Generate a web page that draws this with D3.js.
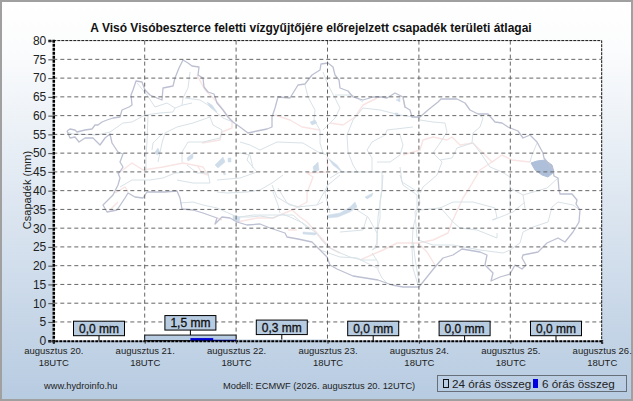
<!DOCTYPE html>
<html>
<head>
<meta charset="utf-8">
<script src="https://cdn.jsdelivr.net/npm/d3@7"></script>
<style>
  html, body { margin: 0; padding: 0; background: #fff; }
  svg { display: block; font-family: "Liberation Sans", Arial, sans-serif; }
</style>
</head>
<body>
<div class="container"></div>
<script>
const dayStarts = ['2026-08-20T18:00Z', '2026-08-21T18:00Z', '2026-08-22T18:00Z', '2026-08-23T18:00Z', '2026-08-24T18:00Z', '2026-08-25T18:00Z', '2026-08-26T18:00Z']
const dayLabels = ['augusztus 20.', 'augusztus 21.', 'augusztus 22.', 'augusztus 23.', 'augusztus 24.', 'augusztus 25.', 'augusztus 26.']
const dailyTotals = [0, 1.5, 0.3, 0, 0, 0]
const dailyLabels = ['0,0 mm', '1,5 mm', '0,3 mm', '0,0 mm', '0,0 mm', '0,0 mm']
const sixHourStarts = ['2026-08-22T06:00Z', '2026-08-22T12:00Z']
const sixHourTotals = [0.7, 0.25]
const yTicks = d3.range(0, 85, 5)

// background map, traced in map units
const mapBorder = [[67,131],[70,129],[75,130],[77,132],[85,130],[92,129],[95,125],[98,125],[102,122],[107,120],[113,118],[120,117],[122,110],[129,107],[132,105],[131,95],[133,90],[136,81],[142,82],[145,90],[150,95],[157,98],[162,100],[163,88],[173,86],[175,78],[179,68],[183,60],[188,63],[192,66],[199,67],[198,75],[203,78],[204,87],[208,92],[214,94],[217,103],[223,110],[228,117],[233,122],[240,127],[248,133],[257,131],[267,129],[272,127],[272,117],[275,108],[278,97],[290,98],[298,85],[305,84],[312,75],[320,70],[321,64],[328,63],[333,67],[335,75],[339,80],[340,88],[348,91],[353,97],[363,100],[373,97],[382,97],[387,98],[395,93],[403,97],[405,107],[410,110],[412,117],[420,117],[428,110],[438,102],[441,99],[457,99],[465,103],[470,110],[478,114],[488,114],[495,122],[502,123],[508,127],[518,131],[523,138],[530,135],[537,142],[543,153],[544,158],[548,163],[553,170],[554,176],[558,178],[559,190],[560,194],[572,194],[577,200],[576,204],[580,210],[579,222],[573,232],[565,242],[558,238],[547,243],[538,252],[523,255],[522,258],[526,265],[522,269],[515,265],[510,274],[500,277],[491,281],[493,273],[485,265],[487,255],[480,252],[462,249],[453,255],[443,258],[435,267],[427,277],[419,287],[403,287],[392,285],[378,280],[353,276],[337,269],[330,265],[327,257],[317,247],[312,242],[298,239],[287,237],[285,233],[270,228],[260,224],[247,225],[237,222],[230,218],[222,217],[215,224],[217,218],[203,213],[193,210],[182,209],[180,198],[177,191],[165,192],[147,192],[143,198],[135,197],[128,193],[125,198],[117,210],[107,212],[103,205],[113,195],[118,185],[120,178],[118,173],[119,173],[123,167],[120,162],[123,154],[118,152],[112,143],[110,134],[105,138],[100,145],[93,138],[85,138],[79,142],[75,137],[70,138],[67,131]]
const mapRivers = [
  [[67,132],[73,134],[97,135],[110,132],[123,123],[132,122],[145,115],[160,113],[173,112],[175,108],[183,105],[192,103]],
  [[137,83],[147,95],[155,107],[167,103],[175,108]],
  [[190,72],[188,88],[183,98],[182,105]],
  [[185,98],[200,100],[208,105],[217,113],[223,118],[233,122]],
  [[148,115],[147,142],[146,155],[146,173]],
  [[210,117],[193,123],[177,127],[165,133],[162,143],[158,162]],
  [[210,117],[213,125],[222,130],[220,138],[203,142],[188,142],[182,152],[182,162]],
  [[163,133],[153,143],[152,150]],
  [[120,187],[132,180],[150,180],[163,178],[175,173],[187,172]],
  [[177,180],[193,183],[210,183],[208,173],[197,173],[187,165]],
  [[180,203],[193,202],[203,205],[217,208],[233,215]],
  [[217,180],[240,178],[257,172],[247,160],[250,152]],
  [[217,192],[227,193],[247,192],[260,190],[272,183],[283,175]],
  [[272,185],[277,197],[290,205],[300,207]],
  [[233,218],[253,215],[280,215],[293,215],[310,230]],
  [[240,217],[250,217],[260,216],[273,218],[282,214],[290,217],[303,223],[315,232],[328,247],[338,252],[350,257],[362,260],[377,260]],
  [[273,192],[278,205],[280,213]],
  [[278,188],[287,203],[297,207],[317,205],[323,202]],
  [[317,205],[328,185],[340,175]],
  [[383,175],[382,188],[380,202],[380,218],[377,232],[377,247],[372,250]],
  [[367,217],[363,230],[340,232]],
  [[357,210],[368,217],[377,233]],
  [[400,175],[403,185],[417,195],[417,212],[413,228],[412,248],[413,268],[418,285]],
  [[372,253],[378,262],[378,270],[382,278],[387,283]],
  [[240,142],[250,145],[260,150],[277,142],[303,143],[318,152],[327,155]],
  [[240,153],[250,155],[253,168]],
  [[305,85],[308,97],[315,110],[314,120],[320,130],[320,143],[323,153]],
  [[323,72],[328,85],[335,98],[340,108],[335,118],[328,125],[323,130]],
  [[420,118],[400,115],[380,110],[363,108],[353,120],[347,135],[348,152],[353,165],[358,173]],
  [[335,95],[352,95],[363,102]],
  [[413,127],[387,130],[385,135],[372,142],[367,150],[372,158],[372,173]],
  [[400,135],[403,145],[400,155],[390,162],[377,162]],
  [[420,120],[433,122],[445,123],[447,132],[440,143],[433,153],[442,162],[437,175],[423,187],[420,193]],
  [[477,113],[483,118],[480,127],[473,133],[472,143],[457,148],[452,158],[440,160]],
  [[473,143],[482,155],[490,167],[502,172],[510,177],[510,190],[510,208]],
  [[537,143],[532,155],[530,162]],
  [[510,188],[523,195],[547,188],[558,178]],
  [[523,195],[525,208]],
  [[580,210],[573,205],[558,202],[552,207],[548,222],[533,227],[523,232],[520,243],[510,250],[503,253],[480,250],[453,245],[433,245],[418,240]],
  [[525,202],[513,212],[493,220]],
  [[440,207],[453,222],[460,228],[477,230],[497,238],[497,233]],
  [[420,210],[440,208],[453,202],[473,202],[495,208],[497,218],[492,220]],
  [[400,167],[402,182],[418,192],[420,203],[415,212],[417,238]],
  [[382,172],[382,190],[378,217],[377,243],[373,250]],
  [[413,242],[415,258],[419,283]],
  [[328,183],[325,193],[330,213]],
  [[330,178],[340,172],[383,172]],
  [[320,250],[340,257],[357,258],[377,268]]
]
const mapRoads = [
  [[197,75],[205,90],[218,103],[232,122],[232,128],[222,132],[220,140],[202,143]],
  [[120,172],[132,163],[143,170],[163,167],[183,163],[203,167],[208,175],[202,173],[197,165]],
  [[115,193],[125,187],[128,192]],
  [[110,210],[118,202]],
  [[327,157],[328,172],[307,173],[313,177],[307,193],[307,202],[292,210],[300,217],[307,222],[317,233],[330,248],[340,253]],
  [[292,210],[273,218],[257,218],[237,222]],
  [[217,218],[222,220]],
  [[288,230],[297,230]],
  [[275,115],[290,120],[302,127],[320,130]],
  [[330,123],[343,125],[355,117],[363,105],[377,98]],
  [[403,98],[405,108]],
  [[403,155],[420,150],[423,140],[433,137],[447,140],[452,137],[460,145],[473,143],[480,150],[492,162],[502,155],[512,160],[530,162]],
  [[495,160],[480,170],[470,187],[463,198],[452,222],[448,233],[433,240],[418,243],[397,243],[383,250],[360,260]],
  [[418,243],[427,252],[435,265]],
  [[320,238],[330,248]]
]
const mapLakes = [
  [[328,215],[340,213],[350,207],[355,202],[357,207],[350,212],[338,217],[328,218]],
  [[365,197],[373,193],[372,196],[367,199]],
  [[207,102],[212,105],[217,112],[210,107]],
  [[155,152],[158,148],[160,153],[157,155]],
  [[215,165],[223,157],[225,162],[218,168]],
  [[228,158],[231,158],[231,162],[228,162]],
  [[187,158],[193,153],[193,158],[188,161]],
  [[313,167],[318,162],[319,170],[314,173]],
  [[328,158],[337,165],[343,173],[333,165]],
  [[310,122],[315,120],[317,123],[312,125]],
  [[396,100],[400,98],[400,102]],
  [[395,113],[398,113],[398,116],[395,116]],
  [[223,172],[226,174],[224,175]],
  [[233,215],[240,217],[239,222],[233,220]],
  [[303,232],[317,233],[315,235],[303,234]]
]
const mapBigLake = [[531,163],[537,161],[545,160],[552,165],[554,172],[548,177],[542,175],[535,170]]

const w = 633
const h = 401
const plot = { left: 53.3, right: 601.7, top: 40.6, bottom: 340.7 }

const svg = d3.select('.container')
  .append('svg')
  .attr('width', w)
  .attr('height', h)

const grad = svg.append('defs').append('linearGradient')
  .attr('id', 'bg')
  .attr('x1', 0).attr('y1', 0).attr('x2', 0).attr('y2', 1)
grad.append('stop').attr('offset', '0%').attr('stop-color', '#ffffff')
grad.append('stop').attr('offset', '12%').attr('stop-color', '#fbfcfd')
grad.append('stop').attr('offset', '100%').attr('stop-color', '#b7cbe1')

svg.append('rect')
  .attr('x', 1).attr('y', 1)
  .attr('width', w - 2).attr('height', h - 2)
  .attr('fill', 'url(#bg)')
  .attr('stroke', '#a0a0a0')
  .attr('stroke-width', 2)

svg.append('rect')
  .attr('x', plot.left).attr('y', plot.top)
  .attr('width', plot.right - plot.left).attr('height', plot.bottom - plot.top)
  .attr('fill', '#fff')

const x = d3.scaleUtc()
  .domain([new Date(dayStarts[0]), new Date(dayStarts[6])])
  .range([plot.left, plot.right])
const y = d3.scaleLinear()
  .domain([0, 80])
  .range([plot.bottom, plot.top])

// map units are the same size as the plot, so this only places it
const mapX = d3.scaleLinear().domain([53.3, 601.7]).range([plot.left, plot.right])
const mapY = d3.scaleLinear().domain([40.6, 340.7]).range([plot.top, plot.bottom])
const mapLine = d3.line().x(d => mapX(d[0])).y(d => mapY(d[1]))

const map = svg.append('g').attr('fill', 'none').attr('stroke-linejoin', 'round')
map.selectAll('.road').data(mapRoads).enter().append('path')
  .attr('class', 'road')
  .attr('d', mapLine)
  .attr('stroke', '#f9e4e4')
  .attr('stroke-width', 1.4)
map.selectAll('.river').data(mapRivers).enter().append('path')
  .attr('class', 'river')
  .attr('d', mapLine)
  .attr('stroke', '#d8e2e8')
  .attr('stroke-width', 1)
map.selectAll('.lake').data(mapLakes).enter().append('path')
  .attr('class', 'lake')
  .attr('d', d => mapLine(d) + 'Z')
  .attr('fill', '#cfdcea')
  .attr('stroke', '#cfdcea')
  .attr('stroke-width', 0.5)
map.append('path')
  .attr('d', mapLine(mapBigLake) + 'Z')
  .attr('fill', '#aebfda')
  .attr('stroke', '#aebfda')
map.append('path')
  .attr('d', mapLine(mapBorder))
  .attr('stroke', '#bcc0d2')
  .attr('stroke-width', 1.3)

// grid
svg.append('g').selectAll('line')
  .data(yTicks.slice(1, -1))
  .enter().append('line')
  .attr('x1', plot.left).attr('x2', plot.right)
  .attr('y1', d => y(d)).attr('y2', d => y(d))
  .attr('stroke', '#666')
  .attr('stroke-dasharray', '4,3')
svg.append('g').selectAll('line')
  .data(dayStarts.slice(1, -1))
  .enter().append('line')
  .attr('x1', d => x(new Date(d))).attr('x2', d => x(new Date(d)))
  .attr('y1', plot.top).attr('y2', plot.bottom)
  .attr('stroke', '#666')
  .attr('stroke-dasharray', '4,3')

// 24 hour totals
const dayWidth = x(new Date(dayStarts[1])) - x(new Date(dayStarts[0]))
svg.append('g').selectAll('rect')
  .data(dailyTotals)
  .enter().append('rect')
  .attr('x', (d, i) => x(new Date(dayStarts[i])))
  .attr('y', d => y(d))
  .attr('width', dayWidth)
  .attr('height', d => y(0) - y(d))
  .attr('fill', '#b7cbe1')
  .attr('stroke', d => d > 0.5 ? '#111' : 'none')

// 6 hour totals
svg.append('g').selectAll('rect')
  .data(sixHourTotals)
  .enter().append('rect')
  .attr('x', (d, i) => x(new Date(sixHourStarts[i])))
  .attr('y', d => y(d))
  .attr('width', dayWidth / 4)
  .attr('height', d => y(0) - y(d))
  .attr('fill', '#0000d0')

// frame
svg.append('path')
  .attr('d', `M${plot.left},${plot.top}H${plot.right}V${plot.bottom}`)
  .attr('fill', 'none')
  .attr('stroke', '#111')
  .attr('stroke-dasharray', '3,1')

const yAxis = d3.axisLeft(y).tickValues(yTicks).tickSize(5).tickPadding(2)
const yg = svg.append('g')
  .attr('transform', `translate(${plot.left}, 0)`)
  .call(yAxis)
yg.select('.domain')
  .attr('stroke', '#000')
  .attr('stroke-width', 2.5)
  .attr('stroke-dasharray', '3,1')
yg.selectAll('text')
  .attr('font-family', '"Liberation Sans", Arial, sans-serif')
  .attr('font-size', 12)
  .attr('fill', '#222')
yg.selectAll('line').attr('stroke', '#444')

const xAxis = d3.axisBottom(x)
  .tickValues(dayStarts.map(d => new Date(d)))
  .tickSize(3)
  .tickFormat((d, i) => dayLabels[i])
const xg = svg.append('g')
  .attr('transform', `translate(0, ${plot.bottom})`)
  .call(xAxis)
xg.select('.domain')
  .attr('stroke', '#000')
  .attr('stroke-width', 2)
  .attr('stroke-dasharray', '3,1')
xg.selectAll('line').attr('stroke', '#333')
xg.selectAll('text')
  .attr('font-family', '"Liberation Sans", Arial, sans-serif')
  .attr('font-size', 9.5)
  .attr('fill', '#222')
  .attr('dy', null)
  .attr('y', 13)
xg.selectAll('.tick').append('text')
  .text('18UTC')
  .attr('y', 25)
  .attr('text-anchor', 'middle')
  .attr('font-family', '"Liberation Sans", Arial, sans-serif')
  .attr('font-size', 9.5)
  .attr('fill', '#222')

// labels over each day
const boxes = svg.append('g').selectAll('g')
  .data(dailyTotals)
  .enter().append('g')
  .attr('transform', (d, i) => `translate(${x(new Date(dayStarts[i])) + dayWidth / 2}, 0)`)
boxes.append('line')
  .attr('y1', d => y(d) - 5)
  .attr('y2', d => y(d))
  .attr('stroke', '#000')
boxes.append('rect')
  .attr('x', -25.5)
  .attr('y', d => y(d) - 19.5)
  .attr('width', 51)
  .attr('height', 14.5)
  .attr('fill', '#b7cbe1')
  .attr('stroke', '#000')
boxes.append('text')
  .text((d, i) => dailyLabels[i])
  .attr('y', d => y(d) - 8)
  .attr('text-anchor', 'middle')
  .attr('font-size', 12)
  .attr('stroke', '#111')
  .attr('stroke-width', 0.3)
  .attr('fill', '#111')

svg.append('text')
  .text('A Visó Visóbeszterce feletti vízgyűjtőjére előrejelzett csapadék területi átlagai')
  .attr('x', 311)
  .attr('y', 32)
  .attr('text-anchor', 'middle')
  .attr('font-size', 12)
  .attr('font-weight', 'bold')
  .attr('fill', '#111')

svg.append('text')
  .text('Csapadék (mm)')
  .attr('transform', 'translate(31, 190) rotate(-90)')
  .attr('text-anchor', 'middle')
  .attr('font-size', 11)
  .attr('fill', '#222')

svg.append('text')
  .text('www.hydroinfo.hu')
  .attr('x', 44).attr('y', 389)
  .attr('font-size', 9.3)
  .attr('fill', '#222')
svg.append('text')
  .text('Modell: ECMWF (2026. augusztus 20. 12UTC)')
  .attr('x', 223).attr('y', 389)
  .attr('font-size', 9.3)
  .attr('fill', '#222')

// legend
svg.append('rect')
  .attr('x', 437.5).attr('y', 375.5)
  .attr('width', 189).attr('height', 16)
  .attr('fill', 'none')
  .attr('stroke', '#111')
  .attr('stroke-dasharray', '1,1')
svg.append('rect')
  .attr('x', 443.5).attr('y', 379.5)
  .attr('width', 5).attr('height', 8)
  .attr('fill', 'none')
  .attr('stroke', '#111')
svg.append('text')
  .text('24 órás összeg')
  .attr('x', 452).attr('y', 388)
  .attr('font-size', 11.7)
  .attr('fill', '#222')
svg.append('rect')
  .attr('x', 533).attr('y', 379)
  .attr('width', 5).attr('height', 9)
  .attr('fill', '#0000e0')
svg.append('text')
  .text('6 órás összeg')
  .attr('x', 542).attr('y', 388)
  .attr('font-size', 11.7)
  .attr('fill', '#222')
</script>
</body>
</html>
